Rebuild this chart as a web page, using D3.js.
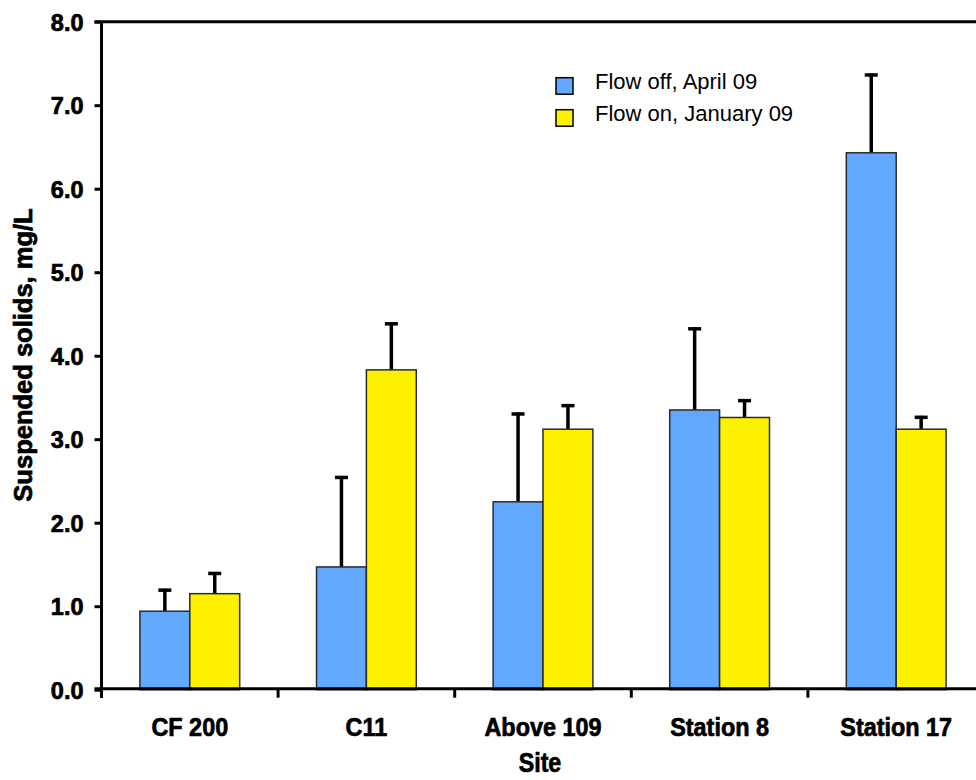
<!DOCTYPE html>
<html>
<head>
<meta charset="utf-8">
<script src="https://cdn.jsdelivr.net/npm/d3@7"></script>
<style>
  html, body { margin: 0; padding: 0; background: #fff; overflow: hidden; }
  svg { display: block; }
</style>
</head>
<body>
<svg id="chart" width="976" height="780"></svg>
<script>
// ---- data ----
const categories = ["CF 200", "C11", "Above 109", "Station 8", "Station 17"];
const seriesNames = ["Flow off, April 09", "Flow on, January 09"];
const flowOff = [0.94, 1.47, 2.25, 3.35, 6.43];
const flowOffErr = [0.27, 1.09, 1.07, 0.99, 0.95];
const flowOn = [1.15, 3.83, 3.12, 3.26, 3.12];
const flowOnErr = [0.26, 0.57, 0.30, 0.22, 0.16];
const yTicks = [0, 1, 2, 3, 4, 5, 6, 7, 8];
const seriesColors = ["#62A8FF", "#FFF200"];

(function () {
const svg = d3.select("#chart");
const pLeft = 101.5, pRight = 984.5, pTop = 21.7, pBottom = 689.7;

const x0 = d3.scaleBand().domain(categories).range([pLeft, pRight]).paddingInner(0).paddingOuter(0);
const x1 = d3.scaleBand().domain(seriesNames).range([0, x0.bandwidth()]).paddingInner(0).paddingOuter(0.77);
const y = d3.scaleLinear().domain([0, 8]).range([pBottom, pTop]);

const values = [flowOff, flowOn];
const errs = [flowOffErr, flowOnErr];
const rows = [];
categories.forEach((c, i) => {
  seriesNames.forEach((s, j) => {
    rows.push({cat: c, series: s, v: values[j][i], e: errs[j][i], color: seriesColors[j]});
  });
});

// error bars (behind bars)
const eg = svg.append("g");
rows.forEach(d => {
  const cx = x0(d.cat) + x1(d.series) + x1.bandwidth() / 2;
  eg.append("line").attr("x1", cx).attr("x2", cx)
    .attr("y1", y(d.v)).attr("y2", y(d.v + d.e))
    .attr("stroke", "#000").attr("stroke-width", 3.5);
  eg.append("line").attr("x1", cx - 6.5).attr("x2", cx + 6.5)
    .attr("y1", y(d.v + d.e) + 1.5).attr("y2", y(d.v + d.e) + 1.5)
    .attr("stroke", "#000").attr("stroke-width", 3.5);
});

// bars
svg.append("g").selectAll("rect").data(rows).join("rect")
  .attr("x", d => x0(d.cat) + x1(d.series))
  .attr("y", d => y(d.v))
  .attr("width", x1.bandwidth())
  .attr("height", d => y(0) - y(d.v))
  .attr("fill", d => d.color)
  .attr("stroke", "#2a2a2a")
  .attr("stroke-width", 1.5);

// top border
svg.append("line").attr("x1", pLeft - 7).attr("x2", 976).attr("y1", pTop).attr("y2", pTop)
  .attr("stroke", "#000").attr("stroke-width", 3);

const heavy = sel => sel.attr("stroke", "#000").attr("stroke-width", 0.7).attr("paint-order", "stroke");

// y axis
const yAxis = d3.axisLeft(y).tickValues(yTicks).tickFormat(d3.format(".1f")).tickSize(7).tickPadding(11);
const ga = svg.append("g").attr("transform", `translate(${pLeft},0)`).call(yAxis);
ga.select(".domain").attr("stroke", "#000").attr("stroke-width", 3).attr("d", `M0,${pTop}V${pBottom + 8}`);
ga.selectAll(".tick line").attr("stroke", "#000").attr("stroke-width", 3);
ga.selectAll(".tick text").attr("font-family", "Liberation Sans, Arial, sans-serif")
  .attr("font-weight", "bold").attr("font-size", 23.5).attr("fill", "#000").attr("dy", "0.36em")
  .call(heavy);

// x axis
const xa = svg.append("g").attr("transform", `translate(0,${pBottom - 1})`);
xa.append("line").attr("x1", pLeft - 7).attr("x2", 976).attr("y1", 0).attr("y2", 0)
  .attr("stroke", "#000").attr("stroke-width", 3);
const bounds = categories.map(c => x0(c)).concat([x0(categories[categories.length - 1]) + x0.bandwidth()]);
xa.selectAll("line.tk").data(bounds).join("line").attr("class", "tk")
  .attr("x1", d => d).attr("x2", d => d).attr("y1", 0).attr("y2", 9)
  .attr("stroke", "#000").attr("stroke-width", 3);

const condense = (sel, f) => sel.each(function() {
  const w = this.getComputedTextLength();
  d3.select(this).attr("textLength", w * f).attr("lengthAdjust", "spacingAndGlyphs");
});

svg.append("g").selectAll("text").data(categories).join("text")
  .attr("x", d => x0(d) + x0.bandwidth() / 2)
  .attr("y", 736)
  .attr("text-anchor", "middle")
  .attr("font-family", "Liberation Sans, Arial, sans-serif")
  .attr("font-weight", "bold").attr("font-size", 26)
  .text(d => d)
  .call(condense, 0.9)
  .call(heavy);

// axis titles
svg.append("text").attr("x", 540).attr("y", 772).attr("text-anchor", "middle")
  .attr("font-family", "Liberation Sans, Arial, sans-serif")
  .attr("font-weight", "bold").attr("font-size", 27).text("Site").call(condense, 0.86).call(heavy);

svg.append("text").attr("transform", "translate(32,355) rotate(-90)").attr("text-anchor", "middle")
  .attr("font-family", "Liberation Sans, Arial, sans-serif")
  .attr("font-weight", "bold").attr("font-size", 25.5).text("Suspended solids, mg/L").call(heavy);

// legend
const lg = svg.append("g");
seriesNames.forEach((s, j) => {
  const ly = 77.7 + j * 32;
  lg.append("rect").attr("x", 556).attr("y", ly).attr("width", 17).attr("height", 16.5)
    .attr("fill", seriesColors[j]).attr("stroke", "#000").attr("stroke-width", 1.5);
  lg.append("text").attr("x", 595).attr("y", ly + 11.5)
    .attr("font-family", "Liberation Sans, Arial, sans-serif")
    .attr("font-size", 22).attr("fill", "#000").text(s);
});
})();
</script>
</body>
</html>
